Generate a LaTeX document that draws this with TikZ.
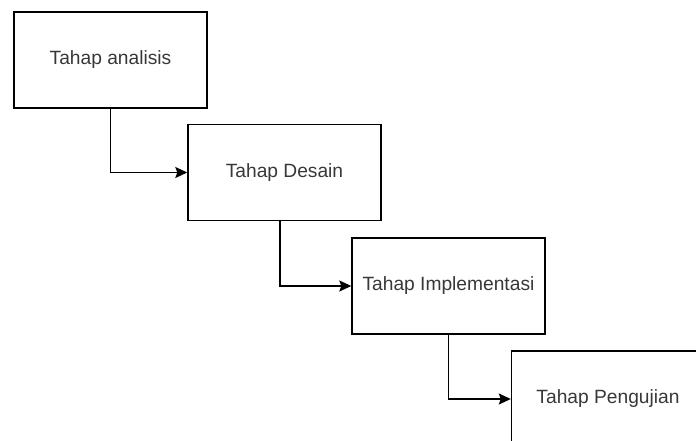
\documentclass[tikz,border=0pt]{standalone}
\usepackage{fontspec}
\setmainfont{Liberation Sans}
\usetikzlibrary{arrows.meta}
\begin{document}
\begin{tikzpicture}[x=1pt,y=-1pt,
  stagebox/.style={draw=black, line width=1.4pt, fill=white, minimum width=193pt, minimum height=96pt, inner sep=0pt, font=\fontsize{19.2}{21}\selectfont, text=black!78},
  flow/.style={draw=black, line width=1.4pt, -{Stealth[length=12pt,width=11pt,inset=2pt]}}]
\useasboundingbox (0,0) rectangle (696,441);
\clip (0,0) rectangle (696,441);
\fill[white] (0,0) rectangle (696,441);
\node[stagebox] (a) at (110.5,60) {Tahap analisis};
\node[stagebox] (b) at (284.5,172.5) {Tahap Desain};
\node[stagebox] (c) at (448.5,286) {Tahap Implementasi};
\node[stagebox] (d) at (608,399) {Tahap Pengujian};
\draw[flow] (a.south) |- (b.west);
\draw[flow] ([xshift=-4.5pt]b.south) |- (c.west);
\draw[flow] (c.south) |- (d.west);
\end{tikzpicture}
\end{document}
